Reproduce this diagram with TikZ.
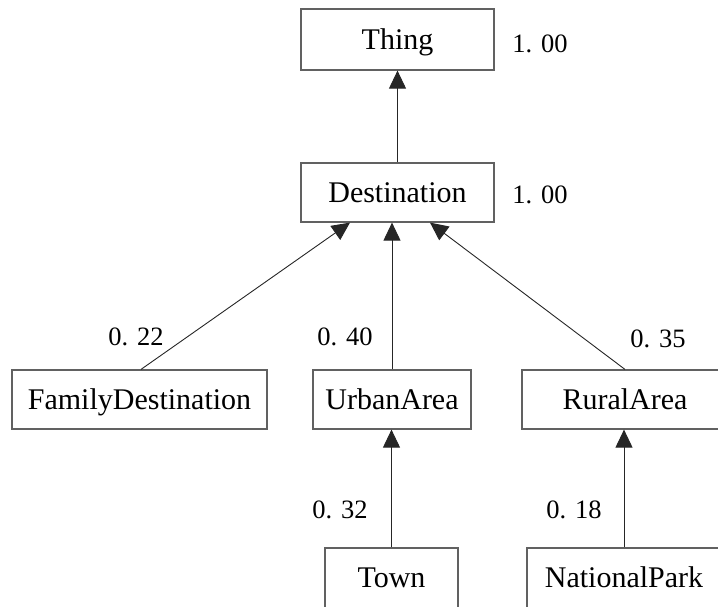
\documentclass[tikz,border=0pt]{standalone}
\usepackage{fontspec}
\setmainfont{Liberation Serif}
\usetikzlibrary{arrows.meta}
\begin{document}
\begin{tikzpicture}[x=1pt,y=-1pt,
  cls/.style={draw=black!62,line width=1.2pt,inner sep=0pt,
    font=\fontsize{30}{36}\selectfont,text height=19.9pt,text depth=0pt},
  val/.style={inner sep=0pt,font=\fontsize{26.5}{30}\selectfont,
    text height=17.9pt,text depth=0pt},
  isa/.style={draw=black!85,line width=0.9pt,-{Triangle[width=17pt,length=18pt]}}]
\useasboundingbox (0,0) rectangle (718,607);
\node[cls,minimum width=193pt,minimum height=61pt] (thing) at (397.5,39.5) {Thing};
\node[cls,minimum width=193pt,minimum height=59pt] (dest) at (397.5,192.5) {Destination};
\node[cls,minimum width=255pt,minimum height=59pt] (fam) at (139.5,399.5) {FamilyDestination};
\node[cls,minimum width=158pt,minimum height=59pt] (urb) at (392,399.5) {UrbanArea};
\node[cls,minimum width=206pt,minimum height=59pt] (rur) at (625,399.5) {RuralArea};
\node[cls,minimum width=133pt,minimum height=60pt] (town) at (391.5,578) {Town};
\node[cls,minimum width=194pt,minimum height=60pt] (np) at (624,578) {NationalPark};
\node[val] (vthing) at (540,44) {1.\,\,00};
\node[val] (vdest) at (540,194.5) {1.\,\,00};
\node[val] (vfam) at (136,337) {0.\,\,22};
\node[val] (vurb) at (345,337) {0.\,\,40};
\node[val] (vrur) at (658,339) {0.\,\,35};
\node[val] (vtown) at (340,509.5) {0.\,\,32};
\node[val] (vnp) at (574,509.5) {0.\,\,18};
\draw[isa] (dest.north) -- (thing.south);
\draw[isa] ([xshift=1.5pt]fam.north) -- ([xshift=-47.5pt]dest.south);
\draw[isa] (urb.north) -- (urb.north |- dest.south);
\draw[isa] (rur.north) -- ([xshift=32.5pt]dest.south);
\draw[isa] (town.north) -- (town.north |- urb.south);
\draw[isa] (np.north) -- (np.north |- rur.south);
\end{tikzpicture}
\end{document}
